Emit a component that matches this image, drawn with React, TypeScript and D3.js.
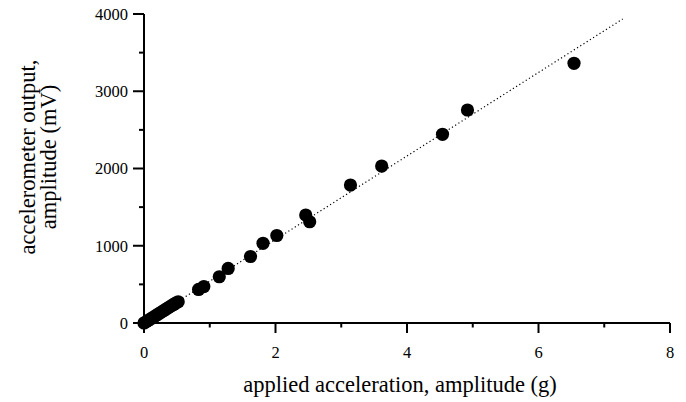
import React from "react";
import * as d3 from "d3";

const accelG = [0, 0.03, 0.06, 0.09, 0.12, 0.15, 0.18, 0.21, 0.24, 0.27, 0.3, 0.33, 0.36, 0.39, 0.42, 0.45, 0.48, 0.52,
  0.83, 0.91, 1.145, 1.28, 1.62, 1.81, 2.02, 2.46, 2.52, 3.14, 3.615, 4.54, 4.92, 6.54];
const outputMv = [0, 15, 32, 48, 64, 80, 96, 112, 128, 144, 160, 176, 192, 208, 224, 240, 256, 275,
  434, 472, 599, 706, 861, 1032, 1133, 1398, 1311, 1786, 2032, 2443, 2757, 3362];
const fitX = [0, 7.28];
const fitY = [0, 3935];
const xTicks = [0, 2, 4, 6, 8];
const xMinor = [1, 3, 5, 7];
const yTicks = [0, 1000, 2000, 3000, 4000];
const yMinor = [500, 1500, 2500, 3500];

const W = 686, H = 402;
const FONT = "'Liberation Serif', 'Times New Roman', serif";

export default function App() {
  const x = d3.scaleLinear().domain([0, 8]).range([144, 670]);
  const y = d3.scaleLinear().domain([0, 4000]).range([323, 14]);
  const line = d3.line<number>().x((d, i) => x(fitX[i])).y((d, i) => y(fitY[i]));
  const x0 = x(0), y0 = y(0);
  return (
    <svg width={W} height={H} style={{ position: "fixed", left: 0, top: 0, background: "#fff" }}>
      <path d={line(fitX) || ""} fill="none" stroke="#000" strokeWidth={1.2} strokeDasharray="1.2,2.6" />
      {accelG.map((g, i) => (
        <circle key={i} cx={x(g)} cy={y(outputMv[i])} r={6.6} fill="#000" />
      ))}
      <line x1={x0} x2={x(8)} y1={y0} y2={y0} stroke="#000" strokeWidth={2} />
      <line x1={x0} x2={x0} y1={y0} y2={y(4000)} stroke="#000" strokeWidth={2} />
      {xTicks.map((t) => (
        <g key={"xt" + t}>
          <line x1={x(t)} x2={x(t)} y1={y0} y2={y0 + 10} stroke="#000" strokeWidth={2} />
          <text x={x(t)} y={358} fontFamily={FONT} fontSize={16.5} textAnchor="middle">{t}</text>
        </g>
      ))}
      {xMinor.map((t) => (
        <line key={"xm" + t} x1={x(t)} x2={x(t)} y1={y0} y2={y0 + 4.5} stroke="#000" strokeWidth={2} />
      ))}
      {yTicks.map((t) => (
        <g key={"yt" + t}>
          <line x1={x0 - 11} x2={x0} y1={y(t)} y2={y(t)} stroke="#000" strokeWidth={2} />
          <text x={128} y={y(t)} dy="0.35em" fontFamily={FONT} fontSize={16.5} textAnchor="end">{t}</text>
        </g>
      ))}
      {yMinor.map((t) => (
        <line key={"ym" + t} x1={x0 - 5} x2={x0} y1={y(t)} y2={y(t)} stroke="#000" strokeWidth={2} />
      ))}
      <text x={400} y={392} fontFamily={FONT} fontSize={22.5} textAnchor="middle">
        applied acceleration, amplitude (g)
      </text>
      <g transform="translate(35,157) rotate(-90)">
        <text x={0} y={0} fontFamily={FONT} fontSize={22.5} textAnchor="middle">accelerometer output,</text>
        <text x={0} y={21} fontFamily={FONT} fontSize={22.5} textAnchor="middle">amplitude (mV)</text>
      </g>
    </svg>
  );
}
